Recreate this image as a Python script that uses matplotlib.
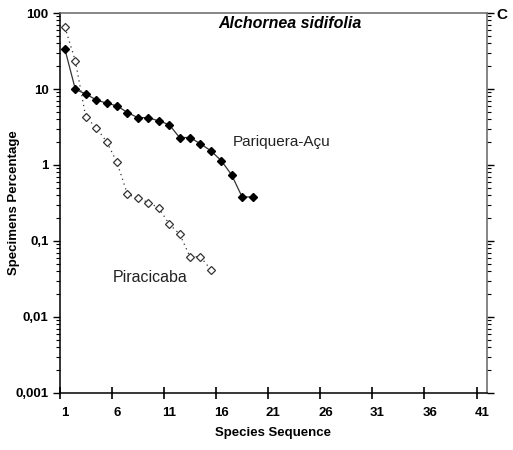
import matplotlib.pyplot as plt
from matplotlib.ticker import FixedLocator, NullFormatter, LogLocator

# Data
pariquera_x = list(range(1, 20))
pariquera_y = [33.3, 9.9, 8.6, 7.2, 6.5, 6.0, 4.9, 4.2, 4.2, 3.8, 3.4,
               2.3, 2.3, 1.9, 1.54, 1.14, 0.74, 0.38, 0.38]
piracicaba_x = list(range(1, 16))
piracicaba_y = [65, 23.4, 4.3, 3.1, 2.03, 1.08, 0.41, 0.37, 0.32, 0.274,
                0.167, 0.124, 0.062, 0.062, 0.042]
x_labels = [1, 6, 11, 16, 21, 26, 31, 36, 41]
y_ticks = [0.001, 0.01, 0.1, 1, 10, 100]
y_labels = ['0,001', '0,01', '0,1', '1', '10', '100']

plt.rcParams['font.family'] = ['Liberation Sans', 'DejaVu Sans']

fig = plt.figure(figsize=(5.13, 4.5), dpi=100)
ax = fig.add_axes([0.1164, 0.1267, 0.8329, 0.8444])

ax.plot(pariquera_x, pariquera_y, color='#333333', lw=0.9, ls='-',
        marker='D', ms=4.5, mfc='black', mec='black', zorder=3)
ax.plot(piracicaba_x, piracicaba_y, color='#333333', lw=0.9, ls=(0, (1, 3)),
        marker='D', ms=4.2, mfc='white', mec='#333333', mew=0.9, zorder=3)

ax.set_yscale('log')
ax.set_ylim(0.001, 100)
ax.set_xlim(0.5, 41.5)

# category axis: tick marks at bin edges, labels at category centres
ax.xaxis.set_major_locator(FixedLocator([0.5 + 5 * i for i in range(9)]))
ax.xaxis.set_major_formatter(NullFormatter())
ax.xaxis.set_minor_locator(FixedLocator(x_labels))
ax.set_xticklabels([str(v) for v in x_labels], minor=True)
ax.tick_params(axis='x', which='major', direction='inout', length=8, width=1.2)
ax.tick_params(axis='x', which='minor', length=0, pad=10,
               labelsize=9.5)
for lab in ax.get_xticklabels(minor=True):
    lab.set_fontweight('bold')

ax.set_yticks(y_ticks)
ax.set_yticklabels(y_labels, fontsize=9.5, fontweight='bold')
ax.yaxis.set_minor_locator(LogLocator(base=10, subs=range(2, 10)))
ax.yaxis.set_minor_formatter(NullFormatter())
ax.tick_params(axis='y', which='major', direction='out', length=5, width=1,
               left=True, right=True, pad=3)
ax.tick_params(axis='y', which='minor', direction='out', length=3, width=0.8,
               left=True, right=True)

for side in ['left', 'bottom']:
    ax.spines[side].set_linewidth(1.1)
    ax.spines[side].set_color('black')
for side in ['top', 'right']:
    ax.spines[side].set_linewidth(1.1)
    ax.spines[side].set_color('#666666')

ax.set_xlabel('Species Sequence', fontsize=9.5, fontweight='bold', labelpad=6)
ax.set_ylabel('Specimens Percentage', fontsize=9.5, fontweight='bold')
ax.yaxis.set_label_coords(-0.093, 0.5)

ax.text(290, 450 - 24, 'Alchornea sidifolia', transform=None, fontsize=11.5,
        fontweight='bold', fontstyle='italic', ha='center', va='center')
fig.text(502 / 513, 1 - 15 / 450, 'C', fontsize=11, fontweight='bold',
         ha='center', va='center')

ax.text(233, 450 - 142, 'Pariquera-Açu', transform=None, fontsize=11,
        ha='left', va='center', color='#222222')
ax.text(113, 450 - 278, 'Piracicaba', transform=None, fontsize=11.5,
        ha='left', va='center', color='#222222')

fig.savefig('out.png', dpi=100)
